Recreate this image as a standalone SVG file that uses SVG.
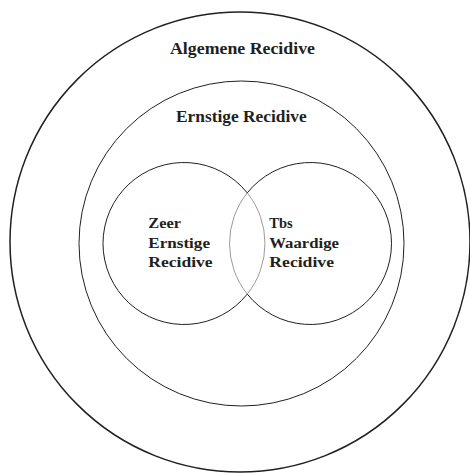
<svg xmlns="http://www.w3.org/2000/svg" width="470" height="473" viewBox="0 0 470 473">
<style>
.ring{fill:none;stroke:#231f20}
.lens{fill:none;stroke:#9a9a9a;stroke-width:1}
text{font-family:"Liberation Serif","Times New Roman",serif;font-weight:bold;fill:#231f20}
.big{font-size:17px}
.small{font-size:14.5px}
</style>
<rect width="470" height="473" fill="#fff"/>
<g id="algemene">
<circle class="ring" cx="240" cy="242" r="230" stroke-width="1.5"/>
<text class="big" x="170" y="54" textLength="145" lengthAdjust="spacingAndGlyphs">Algemene Recidive</text>
</g>
<g id="ernstige">
<circle class="ring" cx="241.5" cy="243.5" r="162.5" stroke-width="1"/>
<text class="big" x="176" y="122.3" textLength="130.7" lengthAdjust="spacingAndGlyphs">Ernstige Recidive</text>
</g>
<g id="zeer-ernstige">
<path class="ring" stroke-width="1" d="M247.25 192.9 A81 81 0 1 0 247.25 294.1"/>
<path class="lens" d="M247.25 192.9 A81 81 0 0 1 247.25 294.1"/>
<text class="small" x="148.3" y="228.3" textLength="32.7" lengthAdjust="spacingAndGlyphs">Zeer</text>
<text class="small" x="148.3" y="247.6" textLength="61.7" lengthAdjust="spacingAndGlyphs">Ernstige</text>
<text class="small" x="148.3" y="266.7" textLength="64.3" lengthAdjust="spacingAndGlyphs">Recidive</text>
</g>
<g id="tbs-waardige">
<path class="ring" stroke-width="1" d="M247.25 192.9 A81 81 0 1 1 247.25 294.1"/>
<path class="lens" d="M247.25 192.9 A81 81 0 0 0 247.25 294.1"/>
<text class="small" x="269.3" y="228.3">Tbs</text>
<text class="small" x="269.3" y="247.6" textLength="69.7" lengthAdjust="spacingAndGlyphs">Waardige</text>
<text class="small" x="269.3" y="266.7" textLength="64.7" lengthAdjust="spacingAndGlyphs">Recidive</text>
</g>
<g id="connectors"></g>
</svg>
